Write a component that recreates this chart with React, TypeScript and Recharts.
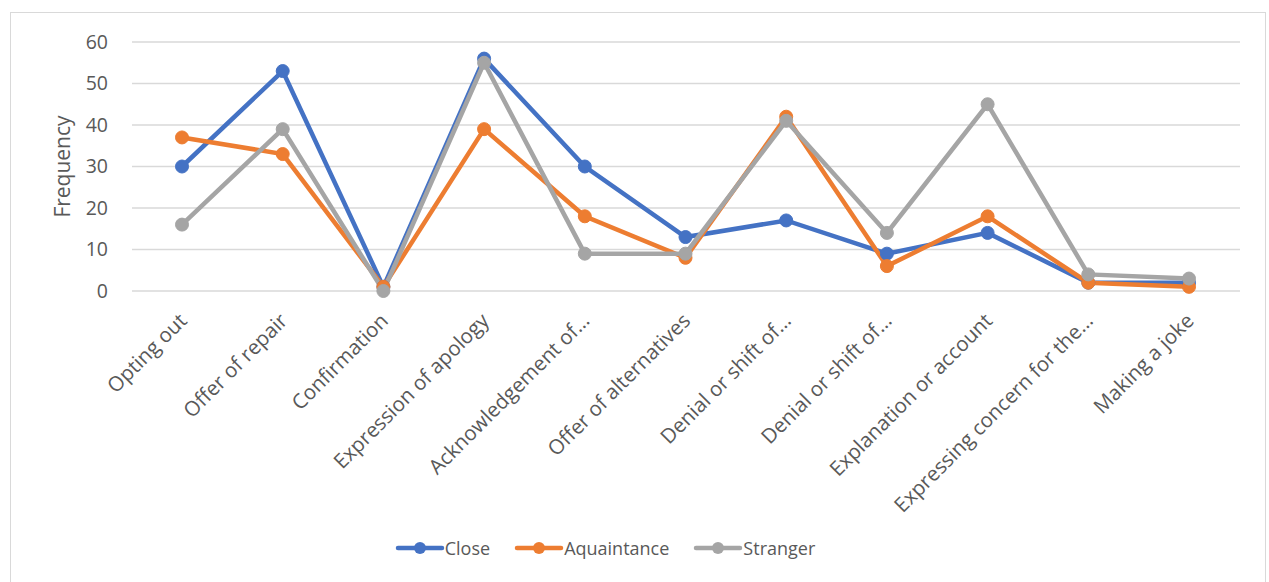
import React from "react";
import { LineChart, Line, XAxis, YAxis, CartesianGrid, Legend } from "recharts";

const categories = [
  "Opting out",
  "Offer of repair",
  "Confirmation",
  "Expression of apology",
  "Acknowledgement of…",
  "Offer of alternatives",
  "Denial or shift of…",
  "Denial or shift of…",
  "Explanation or account",
  "Expressing concern for the…",
  "Making a joke",
];
const closeValues = [30, 53, 1, 56, 30, 13, 17, 9, 14, 2, 2];
const aquaintanceValues = [37, 33, 1, 39, 18, 8, 42, 6, 18, 2, 1];
const strangerValues = [16, 39, 0, 55, 9, 9, 41, 14, 45, 4, 3];
const yTicks = [0, 10, 20, 30, 40, 50, 60];

const seriesInfo = [
  { key: "close", name: "Close", color: "#4472C4" },
  { key: "aquaintance", name: "Aquaintance", color: "#ED7D31" },
  { key: "stranger", name: "Stranger", color: "#A5A5A5" },
];

const data = categories.map((c, i) => ({
  idx: i,
  cat: c,
  close: closeValues[i],
  aquaintance: aquaintanceValues[i],
  stranger: strangerValues[i],
}));

const FONT = "'Open Sans', sans-serif";
const TEXT = "#595959";

const XTick = (props: any) => {
  const { x, y, payload } = props;
  return (
    <g transform={`translate(${x + 1},${y + 18}) rotate(-45)`}>
      <text textAnchor="end" dy="0.35em" fill={TEXT} fontSize={20.5} fontFamily={FONT}>
        {categories[payload.value]}
      </text>
    </g>
  );
};

const LegendContent = () => (
  <div
    style={{
      display: "flex",
      justifyContent: "center",
      alignItems: "center",
      height: 24,
      fontFamily: FONT,
      fontSize: 18,
      color: TEXT,
      paddingRight: 78,
    }}
  >
    {seriesInfo.map((s) => (
      <div key={s.key} style={{ display: "flex", alignItems: "center", marginRight: 24 }}>
        <svg width={50} height={14} style={{ marginRight: 0 }}>
          <line x1={3} y1={7} x2={47} y2={7} stroke={s.color} strokeWidth={4.5} strokeLinecap="round" />
          <circle cx={25} cy={7} r={6} fill={s.color} />
        </svg>
        <span>{s.name}</span>
      </div>
    ))}
  </div>
);

export default function App() {
  return (
    <div style={{ position: "relative", width: 1269, height: 582 }}>
      <style>{`body{margin:0;}`}</style>
      <div
        style={{
          position: "absolute",
          left: 10,
          top: 12,
          width: 1256,
          height: 580,
          border: "1px solid #d9d9d9",
          boxSizing: "border-box",
        }}
      />
      <div style={{ position: "absolute", left: 0, top: 0 }}>
        <LineChart
          width={1269}
          height={582}
          data={data}
          margin={{ top: 42, right: 29, bottom: 0, left: 72 }}
        >
          <CartesianGrid horizontal vertical={false} stroke="#d9d9d9" strokeWidth={1.5} />
          <XAxis
            dataKey="idx"
            type="category"
            tick={<XTick />}
            tickLine={false}
            axisLine={false}
            height={267}
            interval={0}
            padding={{ left: 50, right: 51 }}
          />
          <YAxis
            domain={[0, 60]}
            ticks={yTicks}
            width={60}
            tickLine={false}
            axisLine={false}
            tick={{ fill: TEXT, fontSize: 19.5, fontFamily: FONT }}
            tickMargin={18}
            label={{
              value: "Frequency",
              angle: -90,
              position: "insideLeft",
              dx: -14,
              dy: 0,
              style: { textAnchor: "middle", fill: TEXT, fontSize: 21, fontFamily: FONT },
            }}
          />
          <Legend verticalAlign="bottom" content={<LegendContent />} wrapperStyle={{ bottom: 22 }} />
          {seriesInfo.map((s) => (
            <Line
              key={s.key}
              type="linear"
              dataKey={s.key}
              name={s.name}
              stroke={s.color}
              strokeWidth={4.5}
              dot={{ r: 6.5, fill: s.color, stroke: s.color, strokeWidth: 1 }}
              activeDot={false}
              isAnimationActive={false}
            />
          ))}
        </LineChart>
      </div>
    </div>
  );
}
